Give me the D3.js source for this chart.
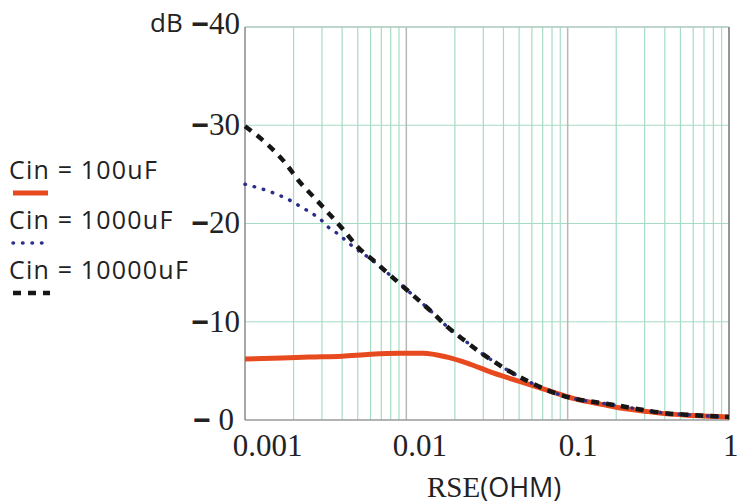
<!DOCTYPE html>
<html>
<head>
<meta charset="utf-8">
<script src="https://cdn.jsdelivr.net/npm/d3@7"></script>
<style>
  body { margin: 0; background: #fff; }
  svg { display: block; }
</style>
</head>
<body>
<svg id="chart" width="739" height="504"></svg>
<script>
// RSE (ohm) sample points and attenuation (dB, negative) for each input cap
var rse100 = [0.001, 0.0017, 0.0025, 0.004, 0.006, 0.009, 0.0127, 0.0179, 0.0238, 0.0345, 0.0509, 0.0745, 0.108, 0.15, 0.2, 0.3, 0.4, 0.6, 1];
var db100 = [-6.2, -6.3, -6.4, -6.5, -6.7, -6.8, -6.8, -6.4, -5.8, -4.8, -3.9, -3.05, -2.2, -1.7, -1.3, -0.9, -0.65, -0.45, -0.3];

var rse1000 = [0.001, 0.00145, 0.00167, 0.00193, 0.00222, 0.00256, 0.0029, 0.0033, 0.0038, 0.0044, 0.005, 0.006, 0.0076, 0.011, 0.0146, 0.0179, 0.0238, 0.0286, 0.0345, 0.0421, 0.056, 0.0745, 0.108, 0.15, 0.2, 0.3, 0.4, 0.6, 1];
var db1000 = [-24.0, -23.2, -22.8, -22.3, -21.7, -21.1, -20.5, -19.6, -18.9, -18.0, -17.3, -16.4, -15.0, -12.7, -10.9, -9.5, -7.9, -6.9, -6.0, -5.1, -4.0, -3.05, -2.2, -1.8, -1.5, -1.0, -0.7, -0.5, -0.3];

var rse10000 = [0.001, 0.00143, 0.00177, 0.00219, 0.0027, 0.00336, 0.0041, 0.005, 0.0064, 0.0076, 0.011, 0.0146, 0.0179, 0.0238, 0.0286, 0.0345, 0.0421, 0.056, 0.0745, 0.108, 0.15, 0.2, 0.3, 0.4, 0.6, 1];
var db10000 = [-29.9, -27.8, -26.2, -24.2, -22.6, -20.9, -19.3, -17.6, -16.1, -15.0, -12.7, -10.9, -9.5, -7.9, -6.9, -6.0, -5.1, -4.0, -3.05, -2.2, -1.8, -1.5, -1.0, -0.7, -0.5, -0.3];

var xTickValues = [0.001, 0.01, 0.1, 1];
var xTickLabels = ["0.001", "0.01", "0.1", "1"];
var yTickValues = [0, -10, -20, -30, -40];
var yTickLabels = [" 0", "10", "20", "30", "40"];

var legendNames = ["Cin = 100uF", "Cin = 1000uF", "Cin = 10000uF"];

(function () {
  var svg = d3.select("#chart");
  var plotL = 245, plotR = 729, plotT = 27, plotB = 420;

  var x = d3.scaleLog().domain([0.001, 1]).range([plotL, plotR]);
  var y = d3.scaleLinear().domain([0, -40]).range([plotB, plotT]);

  var serif = "'Liberation Serif', 'Times New Roman', serif";
  var sans = "'Open Sans', 'Noto Sans', sans-serif";

  // grid
  var grid = svg.append("g");
  var minor = [];
  [0.001, 0.01, 0.1].forEach(function (d) {
    for (var k = 2; k <= 9; k++) { minor.push(d * k); }
  });
  grid.selectAll("line.minor").data(minor).enter().append("line")
    .attr("x1", function (d) { return x(d); })
    .attr("x2", function (d) { return x(d); })
    .attr("y1", plotT).attr("y2", plotB)
    .attr("stroke", "#a6dcc4").attr("stroke-width", 1.2);
  grid.selectAll("line.h").data([-10, -20, -30]).enter().append("line")
    .attr("x1", plotL).attr("x2", plotR)
    .attr("y1", function (d) { return y(d); })
    .attr("y2", function (d) { return y(d); })
    .attr("stroke", "#a6dcc4").attr("stroke-width", 1.2);
  grid.selectAll("line.dec").data([0.01, 0.1]).enter().append("line")
    .attr("x1", function (d) { return x(d); })
    .attr("x2", function (d) { return x(d); })
    .attr("y1", plotT).attr("y2", plotB)
    .attr("stroke", "#b8b8b8").attr("stroke-width", 1.5);
  grid.append("line").attr("x1", plotL).attr("x2", plotR).attr("y1", plotT).attr("y2", plotT)
    .attr("stroke", "#aac8bc").attr("stroke-width", 1.5);
  grid.append("line").attr("x1", plotL).attr("x2", plotR).attr("y1", plotB).attr("y2", plotB)
    .attr("stroke", "#9a9a9a").attr("stroke-width", 1.5);
  grid.append("line").attr("x1", plotL).attr("x2", plotL).attr("y1", plotT).attr("y2", plotB)
    .attr("stroke", "#8a8a8a").attr("stroke-width", 1.5);
  grid.append("line").attr("x1", plotR).attr("x2", plotR).attr("y1", plotT).attr("y2", plotB)
    .attr("stroke", "#8a8a8a").attr("stroke-width", 1.8);

  // axes (labels only)
  var xAxis = d3.axisBottom(x).tickValues(xTickValues).tickSize(0)
    .tickFormat(function (d, i) { return xTickLabels[i]; });
  var gx = svg.append("g").attr("transform", "translate(0," + plotB + ")").call(xAxis);
  gx.select(".domain").remove();
  var labelShift = [22, 13, 10, 9];
  gx.selectAll("text")
    .attr("font-family", serif).attr("font-size", 31).attr("fill", "#222")
    .attr("dy", "1.05em")
    .attr("text-anchor", function (d, i) { return i === xTickValues.length - 1 ? "end" : "middle"; })
    .attr("dx", function (d, i) { return labelShift[i]; });

  var yAxis = d3.axisLeft(y).tickValues(yTickValues).tickSize(0)
    .tickFormat(function (d, i) { return yTickLabels[i]; });
  var gy = svg.append("g").attr("transform", "translate(" + (plotL - 2) + ",0)").call(yAxis);
  gy.select(".domain").remove();
  gy.selectAll("text")
    .attr("font-family", serif).attr("font-size", 31).attr("fill", "#222")
    .attr("xml:space", "preserve")
    .attr("dy", function (d) { return d === -40 ? "0.2em" : "0.3em"; })
    .attr("dx", function (d) { return d === 0 ? -6 : 0; })
    .each(function (d, i) {
      // heavy minus sign like the original
      var t = d3.select(this);
      t.text(null);
      t.append("tspan").attr("font-family", "'Liberation Sans', sans-serif")
        .attr("font-weight", "bold").attr("font-size", 30).text("\u2212");
      t.append("tspan").text(yTickLabels[i]);
    });

  svg.append("text").attr("x", 150).attr("y", 32)
    .attr("font-family", sans).attr("font-size", 26).attr("fill", "#222")
    .text("dB");

  var xt = svg.append("text").attr("x", 427).attr("y", 497)
    .attr("font-size", 29).attr("fill", "#222");
  xt.append("tspan").attr("font-family", serif).text("RSE");
  xt.append("tspan").attr("font-family", sans).attr("font-size", 27).text("(OHM)");

  // curves
  var line = d3.line()
    .x(function (d) { return x(d[0]); })
    .y(function (d) { return y(d[1]); })
    .curve(d3.curveMonotoneX);

  var series = [
    { xs: rse100, ys: db100, color: "#e84a1f", width: 5, dash: null, cap: "butt" },
    { xs: rse1000, ys: db1000, color: "#2b2f8a", width: 3.5, dash: "0.5,9", cap: "round" },
    { xs: rse10000, ys: db10000, color: "#161616", width: 4.5, dash: "8,7", cap: "butt" }
  ];

  var curves = svg.append("g");
  series.forEach(function (s) {
    var pts = s.xs.map(function (v, i) { return [v, s.ys[i]]; });
    curves.append("path").datum(pts)
      .attr("d", line)
      .attr("fill", "none")
      .attr("stroke", s.color)
      .attr("stroke-width", s.width)
      .attr("stroke-linecap", s.cap)
      .attr("stroke-dasharray", s.dash);
  });

  // legend
  var legend = svg.append("g");
  legendNames.forEach(function (name, i) {
    var ly = 179 + i * 50;
    legend.append("text").attr("x", 9).attr("y", ly)
      .attr("font-family", sans).attr("font-size", 25)
      .attr("letter-spacing", 1.2).attr("fill", "#222")
      .text(name);
    legend.append("line")
      .attr("x1", 13).attr("x2", i === 2 ? 50 : 48)
      .attr("y1", ly + 14).attr("y2", ly + 14)
      .attr("stroke", series[i].color)
      .attr("stroke-width", series[i].width)
      .attr("stroke-linecap", series[i].cap)
      .attr("stroke-dasharray", series[i].dash);
  });
})();
</script>
</body>
</html>
